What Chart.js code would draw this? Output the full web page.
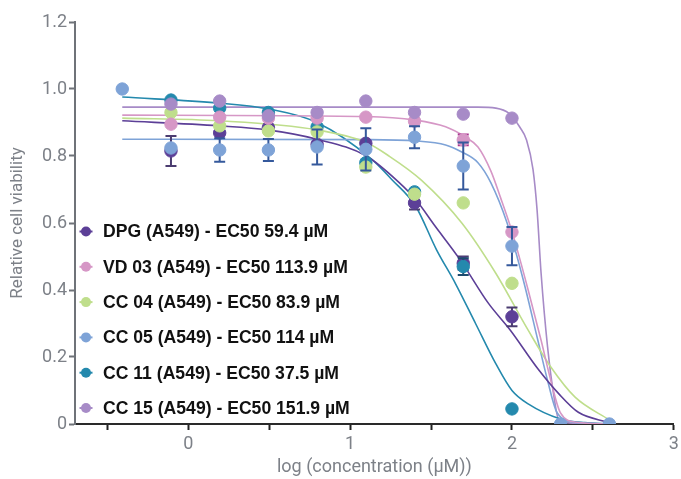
<!DOCTYPE html>
<html>
<head>
<meta charset="utf-8">
<script src="https://cdn.jsdelivr.net/npm/chart.js@4/dist/chart.umd.min.js"></script>
<style>
html,body{margin:0;padding:0;background:#fff;}
#wrap{width:681px;height:479px;position:relative;}
</style>
</head>
<body>
<div id="wrap"><canvas id="c" width="681" height="479"></canvas></div>
<script>
// ---- data ----
const logConc = [-0.408, -0.107, 0.194, 0.495, 0.796, 1.097, 1.398, 1.699, 2.0, 2.301, 2.602];
const seriesNames = [
  'DPG (A549) - EC50 59.4 µM',
  'VD 03 (A549) - EC50 113.9 µM',
  'CC 04 (A549) - EC50 83.9 µM',
  'CC 05 (A549) - EC50 114 µM',
  'CC 11 (A549) - EC50 37.5 µM',
  'CC 15 (A549) - EC50 151.9 µM'
];
const dpgValues  = [null, 0.815, 0.869, 0.885, 0.835, 0.838, 0.66, 0.48, 0.32, null, null];
const vd03Values = [null, 0.895, 0.916, 0.913, 0.913, 0.916, 0.904, 0.848, 0.573, null, null];
const cc04Values = [null, 0.93, 0.89, 0.875, 0.872, 0.767, 0.686, 0.66, 0.42, null, null];
const cc05Values = [1.0, 0.824, 0.818, 0.818, 0.827, 0.82, 0.856, 0.77, 0.531, 0.0, 0.0];
const cc11Values = [null, 0.967, 0.943, 0.93, 0.887, 0.78, 0.693, 0.47, 0.045, null, null];
const cc15Values = [null, 0.955, 0.964, 0.92, 0.93, 0.964, 0.93, 0.925, 0.913, null, null];

const dpgErrors  = [null, 0.045, null, null, null, null, 0.02, 0.02, 0.028, null, null];
const vd03Errors = [null, null, null, null, null, null, null, 0.016, null, null, null];
const cc04Errors = [null, null, null, null, null, null, null, null, null, null, null];
const cc05Errors = [null, null, 0.035, 0.033, 0.052, 0.063, 0.033, 0.07, 0.057, null, null];
const cc11Errors = [null, null, null, null, null, null, null, 0.025, null, null, null];
const cc15Errors = [null, null, null, null, null, null, null, null, null, null, null];

// fitted curves
const dpgCurveX  = [-0.408, 0.19, 0.49, 0.795, 1.1, 1.3, 1.405, 1.52, 1.68, 1.855, 1.99, 2.16, 2.29, 2.41, 2.602];
const dpgCurveY  = [0.905, 0.89, 0.878, 0.85, 0.80, 0.722, 0.67, 0.594, 0.49, 0.36, 0.28, 0.165, 0.09, 0.035, 0.004];
const vd03CurveX = [-0.408, 1.1, 1.405, 1.59, 1.71, 1.79, 1.87, 1.93, 1.99, 2.05, 2.1, 2.18, 2.24, 2.30, 2.40, 2.602];
const vd03CurveY = [0.922, 0.918, 0.907, 0.887, 0.857, 0.827, 0.755, 0.675, 0.59, 0.49, 0.40, 0.25, 0.13, 0.033, 0.005, 0.0];
const cc04CurveX = [-0.408, 0.19, 0.795, 1.1, 1.24, 1.44, 1.69, 1.90, 2.1, 2.24, 2.39, 2.602];
const cc04CurveY = [0.913, 0.905, 0.878, 0.84, 0.80, 0.728, 0.60, 0.45, 0.28, 0.17, 0.08, 0.012];
const cc05CurveX = [-0.408, 1.1, 1.405, 1.59, 1.69, 1.79, 1.87, 1.97, 2.07, 2.16, 2.22, 2.28, 2.40, 2.602];
const cc05CurveY = [0.85, 0.849, 0.845, 0.833, 0.812, 0.78, 0.72, 0.60, 0.43, 0.25, 0.13, 0.033, 0.004, 0.0];
const cc11CurveX = [-0.408, 0.19, 0.5, 0.795, 1.134, 1.257, 1.405, 1.534, 1.65, 1.775, 1.90, 2.0, 2.10, 2.30, 2.45, 2.602];
const cc11CurveY = [0.976, 0.958, 0.94, 0.90, 0.79, 0.73, 0.65, 0.52, 0.42, 0.30, 0.18, 0.10, 0.06, 0.015, 0.004, 0.001];
const cc15CurveX = [-0.408, 1.79, 1.90, 1.98, 2.05, 2.09, 2.13, 2.155, 2.18, 2.22, 2.26, 2.29, 2.40, 2.602];
const cc15CurveY = [0.946, 0.946, 0.943, 0.928, 0.885, 0.848, 0.76, 0.64, 0.45, 0.23, 0.08, 0.012, 0.002, 0.0];

const xTickValues = [-0.5, 0, 0.5, 1, 1.5, 2, 2.5, 3];
const yTickValues = [0, 0.2, 0.4, 0.6, 0.8, 1.0, 1.2];

// ---- styling ----
const pointColors = ['#5c3f97', '#d697c6', '#bfde8c', '#7ea3d7', '#2489ad', '#a78bc7'];
const errorColors = ['#4b3c70', '#a9358f', '#5a7a3a', '#35599c', '#1d4b6e', '#6a5590'];
const pointOrder  = [6, 3, 4, 2, 5, 1];
const allValues = [dpgValues, vd03Values, cc04Values, cc05Values, cc11Values, cc15Values];
const allErrors = [dpgErrors, vd03Errors, cc04Errors, cc05Errors, cc11Errors, cc15Errors];
const allCurveX = [dpgCurveX, vd03CurveX, cc04CurveX, cc05CurveX, cc11CurveX, cc15CurveX];
const allCurveY = [dpgCurveY, vd03CurveY, cc04CurveY, cc05CurveY, cc11CurveY, cc15CurveY];

const datasets = [];
seriesNames.forEach((name, i) => {
  datasets.push({
    type: 'line',
    label: name + ' fit',
    isCurve: true,
    data: allCurveX[i].map((x, j) => ({ x: x, y: allCurveY[i][j] })),
    borderColor: pointColors[i],
    borderWidth: 1.6,
    pointRadius: 0,
    pointHoverRadius: 0,
    cubicInterpolationMode: 'monotone',
    fill: false,
    order: 20 + i
  });
});
seriesNames.forEach((name, i) => {
  const pts = [];
  logConc.forEach((x, j) => {
    if (allValues[i][j] !== null) pts.push({ x: x, y: allValues[i][j], e: allErrors[i][j] });
  });
  datasets.push({
    type: 'scatter',
    label: name,
    data: pts,
    backgroundColor: pointColors[i],
    borderColor: pointColors[i],
    borderWidth: 1,
    pointRadius: 6.2,
    pointHoverRadius: 6.2,
    showLine: false,
    errColor: errorColors[i],
    order: pointOrder[i]
  });
});

const errorBarPlugin = {
  id: 'errorBars',
  beforeDatasetDraw(chart, args) {
    const ds = chart.data.datasets[args.index];
    if (!ds.errColor) return;
    const ctx = chart.ctx, xs = chart.scales.x, ys = chart.scales.y;
    ctx.save();
    ctx.strokeStyle = ds.errColor;
    ctx.lineWidth = 2;
    ds.data.forEach(p => {
      if (p.e === null || p.e === undefined) return;
      const px = xs.getPixelForValue(p.x);
      const top = ys.getPixelForValue(p.y + p.e);
      const bot = ys.getPixelForValue(p.y - p.e);
      ctx.beginPath();
      ctx.moveTo(px, top); ctx.lineTo(px, bot);
      ctx.moveTo(px - 5.5, top); ctx.lineTo(px + 5.5, top);
      ctx.moveTo(px - 5.5, bot); ctx.lineTo(px + 5.5, bot);
      ctx.stroke();
    });
    ctx.restore();
  }
};

const insideLegend = {
  id: 'insideLegend',
  afterDatasetsDraw(chart) {
    const ctx = chart.ctx, ca = chart.chartArea;
    const n = seriesNames.length;
    ctx.save();
    seriesNames.forEach((name, i) => {
      const cy = ca.bottom - 16 - (n - 1 - i) * 35.3;
      const cx = ca.left + 11;
      ctx.strokeStyle = pointColors[i];
      ctx.lineWidth = 2;
      ctx.beginPath(); ctx.moveTo(cx - 6.5, cy); ctx.lineTo(cx + 6.5, cy); ctx.stroke();
      ctx.fillStyle = pointColors[i];
      ctx.beginPath(); ctx.arc(cx, cy, 5, 0, Math.PI * 2); ctx.fill();
      ctx.fillStyle = '#111111';
      ctx.font = 'bold 17.6px "Liberation Sans", Arial, sans-serif';
      ctx.textBaseline = 'middle';
      ctx.textAlign = 'left';
      ctx.fillText(name, ca.left + 28, cy + 1);
    });
    ctx.restore();
  }
};

const axisGray = '#7d8188';
new Chart(document.getElementById('c'), {
  type: 'scatter',
  data: { datasets: datasets },
  plugins: [errorBarPlugin, insideLegend],
  options: {
    responsive: false,
    animation: false,
    devicePixelRatio: 1,
    layout: { padding: { top: 22, right: 0, left: 0, bottom: 0 } },
    plugins: { legend: { display: false }, tooltip: { enabled: false } },
    scales: {
      x: {
        type: 'linear',
        min: -0.7,
        max: 3,
        afterBuildTicks: (s) => { s.ticks = xTickValues.map(v => ({ value: v })); },
        afterFit: (s) => { s.height = 55; s.paddingRight = 5; },
        ticks: {
          autoSkip: false,
          maxRotation: 0,
          color: axisGray,
          font: { family: 'Roboto', size: 18 },
          padding: 4,
          callback: (v) => (Number.isInteger(v) ? String(v) : '')
        },
        grid: { drawOnChartArea: false, drawTicks: true, tickLength: 6, tickColor: '#222222', tickWidth: 2 },
        border: { display: true, color: '#2a2a2a', width: 2 },
        title: { display: true, text: 'log (concentration (µM))', color: axisGray, font: { family: 'Roboto', size: 18 }, padding: { top: 0, bottom: 1 } }
      },
      y: {
        type: 'linear',
        min: 0,
        max: 1.2,
        afterBuildTicks: (s) => { s.ticks = yTickValues.map(v => ({ value: v })); },
        afterFit: (s) => { s.width = 75; },
        ticks: {
          color: axisGray,
          font: { family: 'Roboto', size: 18 },
          padding: 2,
          callback: (v) => (v === 0 ? '0' : Number(v).toFixed(1))
        },
        grid: { drawOnChartArea: false, drawTicks: true, tickLength: 6, tickColor: '#6f7379', tickWidth: 2 },
        border: { display: true, color: '#6f7379', width: 2 },
        title: { display: true, text: 'Relative cell viability', color: axisGray, font: { family: 'Roboto', size: 17 }, padding: { top: 8, bottom: 4 } }
      }
    }
  }
});
</script>
</body>
</html>
